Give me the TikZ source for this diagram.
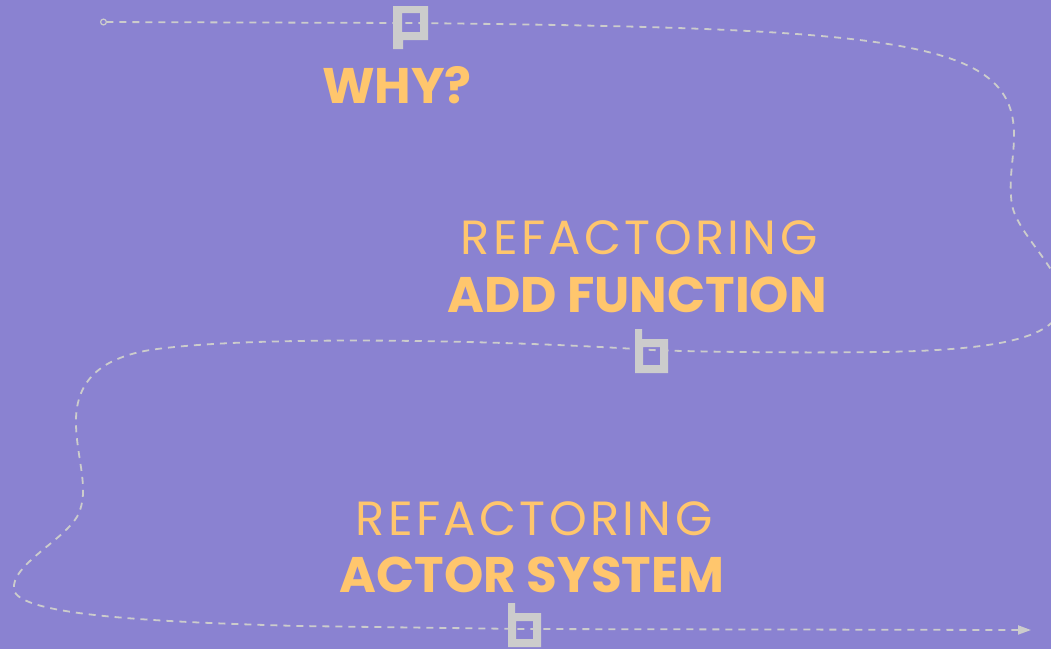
\documentclass[tikz,border=0pt]{standalone}
\usepackage{fontspec}
\setmainfont{Poppins}
\usetikzlibrary{arrows.meta, positioning}
\definecolor{bgpurple}{RGB}{138,130,209}
\definecolor{txtyellow}{RGB}{255,198,109}
\definecolor{pathgray}{RGB}{204,204,204}
\tikzset{
  headline/.style={text=txtyellow, font=\fontsize{50}{50}\selectfont\bfseries, anchor=base, inner sep=0pt},
  subline/.style={text=txtyellow, font=\fontsize{48}{48}\selectfont\addfontfeature{LetterSpace=7}, anchor=base, inner sep=0pt},
  route/.style={draw=pathgray, line width=1.8pt, dash pattern=on 7pt off 6pt},
  marker/.style={fill=pathgray, even odd rule},
}
\begin{document}
\begin{tikzpicture}[x=1pt, y=-1pt]
  \clip (0,0) rectangle (1051,649);
  \fill[bgpurple] (0,0) rectangle (1051,649);

  \coordinate (start) at (100,22);
  \coordinate (mkwhy) at (410,23);
  \coordinate (mkadd) at (652,350);
  \coordinate (mkactor) at (524,629);
  \coordinate (finish) at (1031,630);

  % dashed route
  \draw[route, {Circle[open, length=7pt, width=7pt, line width=1.2pt]}-{Triangle[length=13pt, width=9pt]}]
    (start) -- (mkwhy)
    .. controls (900,28) and (1014,40) .. (1014,135)
    .. controls (1014,160) and (1008,180) .. (1012,205)
    .. controls (1018,235) and (1062,270) .. (1062,300)
    .. controls (1062,335) and (1010,350) .. (880,352)
    .. controls (800,353) and (700,352) .. (mkadd)
    .. controls (500,340) and (250,335) .. (150,350)
    .. controls (90,360) and (75,390) .. (76,425)
    .. controls (77,460) and (90,490) .. (78,515)
    .. controls (65,540) and (10,565) .. (14,590)
    .. controls (20,615) and (150,622) .. (300,626)
    -- (mkactor) -- (finish);

  % markers
  \fill[marker] (393,6) rectangle ++(35,34) (402,13) rectangle ++(18,19) (393,40) rectangle ++(10,9);
  \foreach \mx/\my in {635/339, 508/613}
    \fill[marker] (\mx,\my) rectangle ++(33,34) (\mx+8,\my+8) rectangle ++(17,18) (\mx,\my) rectangle ++(7,-10);

  % labels
  \node[headline] (why) at (397,103) {WHY?};
  \node[subline] (refone) at (639,254) {REFACTORING};
  \node[headline] (addfn) at (637,312) {ADD FUNCTION};
  \node[subline] (reftwo) at (534,535) {REFACTORING};
  \node[headline] (actsys) at (532,592) {ACTOR SYSTEM};
\end{tikzpicture}
\end{document}
